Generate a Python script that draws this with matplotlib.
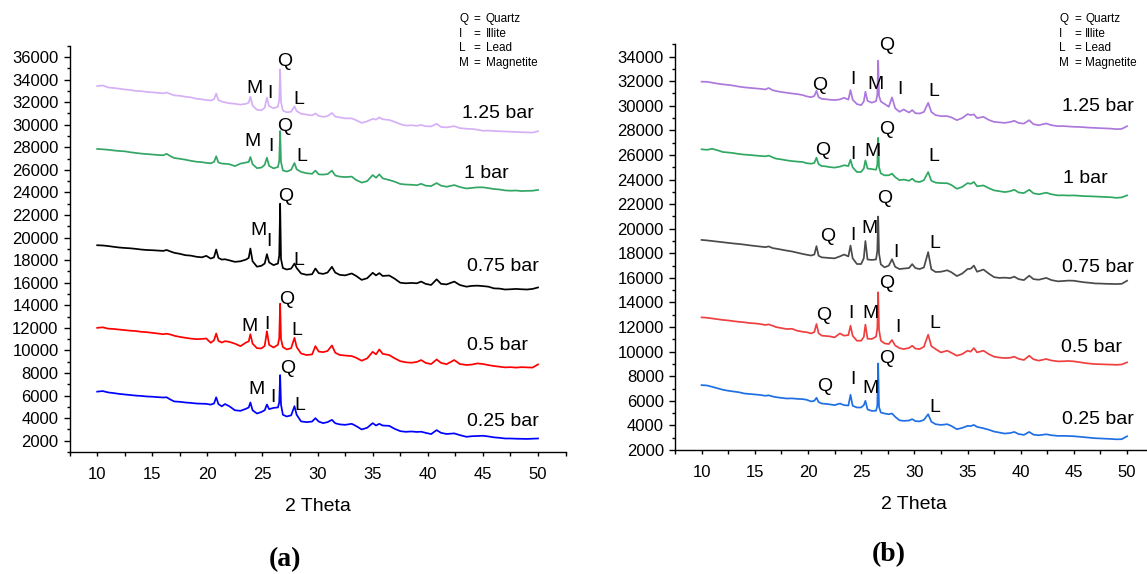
import matplotlib
matplotlib.use("Agg")
import matplotlib.pyplot as plt
from matplotlib.ticker import MultipleLocator

plt.rcParams['font.family'] = ['Liberation Sans', 'DejaVu Sans']

# 2-theta sampling used for the left panel
theta_a = [10, 10.5, 11, 11.5, 12, 12.5, 13, 13.5, 14, 14.5,
           15, 15.5, 16, 16.3, 16.7, 17, 17.5, 18, 18.5, 19,
           19.5, 19.9, 20.3, 20.6, 20.8, 21.0, 21.3, 21.6, 22.0, 22.5,
           23.0, 23.5, 23.75, 23.9, 24.1, 24.5, 24.9, 25.2, 25.4, 25.6,
           26.0, 26.4, 26.52, 26.6, 26.68, 26.85, 27.2, 27.6, 27.9, 28.1,
           28.5, 29.0, 29.5, 29.8, 30.1, 30.5, 30.9, 31.3, 31.6, 32.0,
           32.5, 33.1, 33.5, 34.0, 34.5, 35.0, 35.3, 35.6, 35.9, 36.5,
           37.0, 37.5, 38.0, 38.5, 39.0, 39.4, 39.8, 40.3, 40.8, 41.2,
           41.7, 42.4, 42.9, 43.5, 44.0, 44.5, 45.0, 45.5, 46.0, 46.5,
           47.0, 47.5, 48.0, 48.5, 49.0, 49.5, 50.0]

a_125 = [33420, 33480, 33300, 33250, 33190, 33120, 33080, 32990, 32980, 32900,
         32870, 32820, 32780, 32850, 32700, 32600, 32560, 32480, 32420, 32300,
         32250, 32180, 32150, 32250, 32760, 32180, 32050, 31980, 31900, 31850,
         31780, 31850, 31950, 32480, 31700, 31320, 31280, 31500, 32400, 31650,
         31450, 31600, 32200, 34900, 32000, 31250, 31100, 31150, 31620, 31200,
         30970, 30900, 30820, 31000, 30780, 30700, 30760, 31040, 30720, 30650,
         30560, 30560, 30400, 30160, 30300, 30520, 30450, 30650, 30480, 30420,
         30250, 30050, 29920, 29950, 29900, 29980, 29860, 29850, 30080, 29800,
         29760, 29870, 29700, 29640, 29620, 29560, 29460, 29480, 29440, 29420,
         29400, 29380, 29360, 29330, 29320, 29300, 29420]

a_100 = [27850, 27820, 27780, 27720, 27670, 27640, 27560, 27500, 27440, 27400,
         27360, 27320, 27290, 27420, 27180, 27050, 26980, 26900, 26800, 26720,
         26680, 26620, 26580, 26700, 27200, 26650, 26560, 26540, 26500, 26330,
         26550, 26650, 26700, 27140, 26500, 26150, 26200, 26450, 27080, 26350,
         26130, 26250, 26800, 29440, 26700, 25950, 25850, 26000, 26610, 26050,
         25820, 25700, 25650, 25930, 25600, 25580, 25620, 25930, 25500, 25400,
         25360, 25400, 25100, 24870, 25000, 25540, 25300, 25600, 25250, 25100,
         24950, 24750, 24700, 24680, 24640, 24760, 24600, 24560, 24830, 24600,
         24500, 24650, 24480, 24350, 24400, 24450, 24450, 24380, 24300, 24260,
         24180, 24150, 24170, 24120, 24140, 24150, 24220]

a_075 = [19320, 19300, 19250, 19180, 19120, 19080, 19050, 19000, 18940, 18900,
         18880, 18850, 18820, 18900, 18750, 18650, 18560, 18440, 18400, 18300,
         18250, 18380, 18140, 18250, 18940, 18200, 18050, 18080, 17980, 17850,
         17900, 18050, 18200, 19030, 17900, 17420, 17500, 17700, 18530, 17800,
         17560, 17700, 18400, 23000, 18100, 17300, 17170, 17250, 17700, 17300,
         16820, 16700, 16750, 17260, 16850, 16780, 16900, 17410, 16900, 16700,
         16650, 16820, 16600, 16250, 16400, 16880, 16650, 16850, 16600, 16640,
         16350, 16000, 15950, 15980, 15950, 16100, 15900, 15800, 16300, 15900,
         15850, 16100, 15800, 15650, 15720, 15740, 15700, 15650, 15500, 15480,
         15400, 15420, 15450, 15420, 15400, 15450, 15580]

a_050 = [12000, 12050, 11930, 11900, 11850, 11800, 11750, 11720, 11650, 11620,
         11560, 11500, 11440, 11480, 11400, 11300, 11200, 11120, 11050, 11000,
         11020, 11060, 10680, 10900, 11500, 10850, 10700, 10820, 10760, 10600,
         10380, 10700, 10800, 11440, 10600, 10200, 10180, 10400, 11700, 10500,
         10260, 10500, 11100, 14140, 11000, 10300, 10090, 10200, 11120, 10300,
         9730, 9590, 9650, 10380, 9900, 9850, 9950, 10440, 9800, 9600,
         9550, 9500, 9350, 9090, 9300, 9880, 9650, 10090, 9700, 9590,
         9300, 9050, 8950, 8910, 8980, 9150, 8900, 8790, 9200, 8900,
         8780, 9150, 8800, 8710, 8750, 8850, 8800, 8700, 8620, 8560,
         8500, 8520, 8480, 8520, 8500, 8480, 8760]

a_025 = [6350, 6400, 6280, 6220, 6150, 6100, 6050, 6000, 5970, 5920,
         5900, 5860, 5830, 5850, 5620, 5480, 5450, 5390, 5350, 5300,
         5280, 5270, 5200, 5300, 5850, 5250, 5050, 5250, 5050, 4700,
         4650, 4830, 4950, 5390, 4700, 4410, 4550, 4700, 5210, 4800,
         4910, 4950, 5400, 7810, 5200, 4300, 4150, 4250, 5060, 4300,
         3710, 3650, 3700, 4000, 3700, 3560, 3650, 3850, 3550, 3450,
         3410, 3500, 3300, 3000, 3150, 3560, 3350, 3500, 3350, 3320,
         3050, 2850, 2790, 2820, 2780, 2800, 2700, 2590, 2940, 2700,
         2600, 2650, 2500, 2350, 2400, 2420, 2440, 2380, 2300, 2260,
         2200, 2200, 2180, 2170, 2160, 2180, 2200]

# 2-theta sampling used for the right panel
theta_b = [10, 10.5, 11, 11.5, 12, 12.5, 13, 13.5, 14, 14.5,
           15, 15.5, 16, 16.3, 16.7, 17, 17.5, 18, 18.5, 19,
           19.5, 19.9, 20.3, 20.6, 20.8, 21.0, 21.3, 21.6, 22.0, 22.5,
           23.0, 23.4, 23.8, 24.0, 24.2, 24.6, 25.0, 25.25, 25.4, 25.6,
           26.0, 26.4, 26.52, 26.6, 26.68, 26.85, 27.2, 27.6, 27.9, 28.2,
           28.6, 29.0, 29.5, 29.8, 30.1, 30.5, 30.9, 31.3, 31.6, 32.0,
           32.5, 33.1, 33.5, 34.0, 34.5, 35.0, 35.3, 35.6, 35.9, 36.5,
           37.0, 37.5, 38.0, 38.5, 39.0, 39.4, 39.8, 40.3, 40.8, 41.2,
           41.7, 42.4, 42.9, 43.5, 44.0, 44.5, 45.0, 45.5, 46.0, 46.5,
           47.0, 47.5, 48.0, 48.5, 49.0, 49.5, 50.0]

b_125 = [31960, 31950, 31880, 31800, 31740, 31700, 31640, 31560, 31500, 31460,
         31420, 31380, 31330, 31450, 31260, 31200, 31120, 31060, 31000, 30950,
         30870, 30760, 30700, 30800, 31220, 30700, 30560, 30540, 30500, 30460,
         30520, 30650, 30500, 31280, 30500, 30140, 30050, 30350, 31140, 30400,
         30250, 30380, 30900, 33670, 30800, 30350, 30150, 29920, 30680, 29800,
         29510, 29700, 29450, 29650, 29400, 29370, 29500, 30240, 29500, 29240,
         29160, 29160, 29050, 28830, 29000, 29320, 29250, 29300, 29000, 29100,
         28850, 28690, 28650, 28610, 28680, 28780, 28600, 28550, 28830, 28500,
         28420, 28560, 28420, 28340, 28350, 28320, 28290, 28280, 28250, 28220,
         28200, 28180, 28160, 28140, 28100, 28120, 28340]

b_100 = [26460, 26420, 26500, 26380, 26240, 26200, 26150, 26080, 26030, 26000,
         25960, 25920, 25890, 25950, 25800, 25700, 25640, 25560, 25500, 25460,
         25430, 25330, 25290, 25350, 25780, 25250, 25100, 25080, 25020, 24970,
         25050, 25160, 25100, 25620, 25000, 24610, 24620, 24900, 25560, 24900,
         24850, 24800, 25200, 27390, 25000, 24500, 24340, 24350, 24480, 24200,
         23950, 24000, 23900, 24070, 23850, 23800, 23950, 24610, 23900, 23750,
         23710, 23700, 23550, 23250, 23400, 23710, 23650, 23800, 23450, 23520,
         23300, 23120, 23050, 22980, 23050, 23170, 22950, 22900, 23170, 22880,
         22800, 22930, 22800, 22710, 22720, 22700, 22710, 22680, 22650, 22640,
         22620, 22600, 22580, 22560, 22510, 22550, 22710]

b_075 = [19090, 19050, 19000, 18950, 18900, 18850, 18800, 18760, 18710, 18650,
         18600, 18550, 18500, 18560, 18420, 18380, 18300, 18220, 18150, 18050,
         17950, 17880, 17820, 17900, 18580, 17800, 17670, 17650, 17620, 17590,
         17750, 17900, 17750, 18630, 17600, 17130, 17130, 17600, 19000, 17500,
         17460, 17500, 18200, 20990, 18000, 17100, 16860, 17000, 17520, 16900,
         16720, 16760, 16800, 17120, 16800, 16720, 16850, 18100, 16700, 16480,
         16500, 16620, 16450, 16150, 16350, 16720, 16750, 17000, 16500, 16680,
         16350, 16060, 16000, 16020, 15980, 16100, 15900, 15820, 16180, 15900,
         15850, 16000, 15820, 15720, 15750, 15780, 15770, 15700, 15640, 15600,
         15550, 15540, 15520, 15510, 15500, 15520, 15770]

b_050 = [12790, 12760, 12700, 12640, 12580, 12540, 12480, 12430, 12390, 12330,
         12300, 12250, 12170, 12220, 12100, 12000, 11920, 11840, 11860, 11700,
         11620, 11580, 11480, 11600, 12250, 11500, 11300, 11280, 11250, 11160,
         11480, 11300, 11350, 12110, 11300, 10890, 10890, 11200, 12200, 11050,
         11030, 11220, 11900, 14830, 11800, 10900, 10670, 10620, 10950, 10500,
         10290, 10210, 10300, 10480, 10250, 10210, 10400, 11380, 10450, 10210,
         9940, 10080, 9900, 9670, 9800, 10080, 10000, 10290, 9940, 10080,
         9800, 9590, 9520, 9480, 9500, 9590, 9420, 9320, 9670, 9380,
         9270, 9400, 9280, 9210, 9220, 9240, 9210, 9150, 9080, 9030,
         8990, 8980, 8960, 8950, 8930, 8960, 9130]

b_025 = [7280, 7250, 7140, 7020, 6900, 6820, 6760, 6700, 6600, 6560,
         6520, 6480, 6410, 6450, 6350, 6300, 6240, 6190, 6200, 6160,
         6140, 6080, 5950, 6000, 6250, 5900, 5780, 5760, 5720, 5650,
         5780, 5650, 5620, 6490, 5600, 5460, 5460, 5650, 6000, 5300,
         5180, 5200, 5600, 9040, 5500, 5050, 4970, 4910, 4970, 4700,
         4420, 4370, 4400, 4510, 4350, 4330, 4450, 4910, 4300, 4100,
         4040, 4100, 3950, 3690, 3800, 3960, 3950, 4040, 3880, 3770,
         3650, 3500, 3420, 3340, 3380, 3470, 3300, 3230, 3470, 3250,
         3200, 3280, 3200, 3150, 3150, 3140, 3120, 3080, 3040, 3000,
         2960, 2940, 2920, 2900, 2870, 2880, 3120]

pressures = ['1.25 bar', '1 bar', '0.75 bar', '0.5 bar', '0.25 bar']
series_a = [a_125, a_100, a_075, a_050, a_025]
series_b = [b_125, b_100, b_075, b_050, b_025]
colors_a = ['#d6b0f6', '#33a665', '#000000', '#ff0000', '#0000ff']
colors_b = ['#ac78dc', '#2fa862', '#4a4a4a', '#ef4040', '#1f6fe4']

# where the pressure captions sit (data coords)
caption_a = [(46.4, 30990), (45.3, 25680), (46.8, 17420), (46.3, 10460), (46.8, 3680)]
caption_b = [(47.3, 29920), (46.1, 24120), (47.3, 16860), (46.7, 10350), (47.3, 4510)]

# phase letters above the peaks, one list per pattern
phases_a = [
    [('M', 24.3, 33200), ('I', 25.7, 32760), ('Q', 27.05, 35560), ('L', 28.3, 32260)],
    [('M', 24.13, 28480), ('I', 25.8, 28040), ('Q', 27.0, 29870), ('L', 28.57, 27160)],
    [('M', 24.6, 20670), ('I', 25.55, 19630), ('Q', 27.06, 23620), ('L', 28.3, 18010)],
    [('M', 23.8, 12080), ('I', 25.38, 12320), ('Q', 27.23, 14500), ('L', 28.14, 11730)],
    [('M', 24.47, 6540), ('I', 25.95, 5830), ('Q', 27.29, 8400), ('L', 28.4, 5150)],
]
phases_b = [
    [('Q', 21.13, 31690), ('I', 24.2, 32100), ('M', 26.34, 31770), ('Q', 27.43, 34870),
     ('I', 28.62, 31330), ('L', 31.79, 31140)],
    [('Q', 21.34, 26380), ('I', 24.2, 26050), ('M', 26.1, 26300), ('Q', 27.36, 28070),
     ('L', 31.79, 25840)],
    [('Q', 21.81, 19360), ('I', 24.2, 19440), ('M', 25.76, 20040), ('Q', 27.26, 22440),
     ('I', 28.28, 18080), ('L', 31.96, 18760)],
    [('Q', 21.51, 12930), ('I', 24.06, 13070), ('M', 25.9, 13070), ('Q', 27.36, 15570),
     ('I', 28.45, 11980), ('L', 31.89, 12330)],
    [('Q', 21.57, 7140), ('I', 24.2, 7770), ('M', 25.9, 7030), ('Q', 27.36, 9480),
     ('L', 31.89, 5460)],
]

legend_keys = ['Q', 'I', 'L', 'M']
legend_names = ['Quartz', 'Illite', 'Lead', 'Magnetite']

fig = plt.figure(figsize=(11.47, 5.74), dpi=100)
ax_a = fig.add_axes([0.0607, 0.2125, 0.4324, 0.7079])
ax_b = fig.add_axes([0.5885, 0.216, 0.4173, 0.7068])


def draw_panel(ax, theta, series, colors, captions, phases, ylim):
    for ys, c, lab, pos, marks in zip(series, colors, pressures, captions, phases):
        ax.plot(theta, ys, color=c, lw=1.25)
        ax.text(pos[0], pos[1], lab, fontsize=14, ha='center', va='center')
        for letter, px, py in marks:
            ax.text(px, py, letter, fontsize=14, ha='center', va='center')
    ax.set_xlim(7.5, 52.5)
    ax.set_ylim(*ylim)
    ax.xaxis.set_major_locator(MultipleLocator(5))
    ax.xaxis.set_minor_locator(MultipleLocator(2.5))
    ax.yaxis.set_major_locator(MultipleLocator(2000))
    ax.yaxis.set_minor_locator(MultipleLocator(1000))
    for side in ['top', 'right']:
        ax.spines[side].set_visible(False)
    for side in ['left', 'bottom']:
        ax.spines[side].set_linewidth(1.0)
    ax.tick_params(axis='both', which='major', direction='out', labelsize=12, width=1.0)
    ax.tick_params(axis='y', which='major', length=4.5, pad=3.5)
    ax.tick_params(axis='y', which='minor', length=2.5, width=1.0)
    ax.tick_params(axis='x', which='both', length=3, width=1.0)
    ax.tick_params(axis='x', which='major', pad=7.5)
    ax.set_xlabel('2 Theta', fontsize=14, labelpad=11.5)


draw_panel(ax_a, theta_a, series_a, colors_a, caption_a, phases_a, (1000, 37000))
draw_panel(ax_b, theta_b, series_b, colors_b, caption_b, phases_b, (2000, 35000))

# phase key in the upper right of each panel
key_y = [0.9669, 0.9408, 0.9159, 0.8897]
for x0 in [(0.4002, 0.4125, 0.4235), (0.9233, 0.9365, 0.9462)]:
    for k, name, y in zip(legend_keys, legend_names, key_y):
        fig.text(x0[0], y, k, fontsize=8.5, va='center')
        fig.text(x0[1], y, '=', fontsize=8.5, va='center')
        fig.text(x0[2], y, name, fontsize=8.5, va='center')

fig.text(0.2485, 0.0245, '(a)', fontsize=20, fontweight='bold', ha='center', va='center',
         family=['Liberation Serif'])
fig.text(0.7748, 0.033, '(b)', fontsize=20, fontweight='bold', ha='center', va='center',
         family=['Liberation Serif'])

fig.savefig('out.png', dpi=100)
